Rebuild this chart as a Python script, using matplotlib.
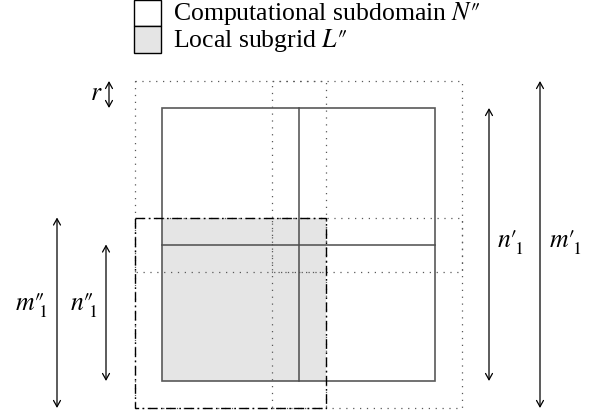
import matplotlib
matplotlib.use("Agg")
import matplotlib.pyplot as plt
from matplotlib.patches import Rectangle, FancyArrowPatch
from matplotlib.mathtext import MathTextParser
from matplotlib.font_manager import FontProperties

plt.rcParams['font.family'] = ['Liberation Serif', 'DejaVu Serif']
plt.rcParams['mathtext.fontset'] = 'stix'

# ---- diagram data (pixel units of the reference drawing) ----
legend_labels = ["Computational subdomain $N\u2033$", "Local subgrid $L\u2033$"]
legend_fills = ["white", "#e5e5e5"]
halo_r = 27            # halo width r
sub_size = 273         # computational subdomain size n'_1
sub_origin = (162, 109)
# dimension labels: (letter, primes, subscript)
dim_labels = {"n1p": ("n", "\u2032", "1"), "m1p": ("m", "\u2032", "1"),
              "n1pp": ("n", "\u2033", "1"), "m1pp": ("m", "\u2033", "1")}
r_label = "$r$"

W, H = 595, 414
fig = plt.figure(figsize=(W / 100, H / 100), dpi=100)
ax = fig.add_axes([0, 0, 1, 1])
ax.set_xlim(0, W)
ax.set_ylim(H, 0)
ax.axis('off')

x0, y0 = sub_origin
x1, y1 = x0 + sub_size, y0 + sub_size
xm, ym = (x0 + x1) / 2, (y0 + y1) / 2
r = halo_r

# local subgrid (bottom-left quadrant plus halo) grey fill, clipped to subdomain
gx0, gy0, gx1, gy1 = x0 - r, ym - r, xm + r, y1 + r
ax.add_patch(Rectangle((max(gx0, x0), gy0), min(gx1, x1) - max(gx0, x0),
                       min(gy1, y1) - gy0, facecolor=legend_fills[1],
                       edgecolor='none', zorder=1))

# dotted halo boxes of the four quadrants
dot = dict(edgecolor='0.35', lw=0.9, ls=(0, (1, 4.5)), zorder=2)
for qx0, qx1 in [(x0, xm), (xm, x1)]:
    for qy0, qy1 in [(y0, ym), (ym, y1)]:
        ax.add_patch(Rectangle((qx0 - r, qy0 - r), (qx1 - qx0) + 2 * r,
                               (qy1 - qy0) + 2 * r, fill=False, **dot))

# computational subdomain and its division
solid = dict(color='0.3', lw=1.1, zorder=3)
ax.add_patch(Rectangle((x0, y0), sub_size, sub_size, fill=False,
                       edgecolor='0.35', lw=1.2, zorder=3))
ax.plot([xm, xm], [y0, y1], **solid)
ax.plot([x0, x1], [ym, ym], **solid)

# local subgrid dash-dot outline
ax.add_patch(Rectangle((gx0, gy0), gx1 - gx0, gy1 - gy0, fill=False,
                       edgecolor='black', lw=1.0, ls=(0, (7, 2.5, 1.2, 2.5)),
                       zorder=4))

def darrow(x, ya, yb):
    a = FancyArrowPatch((x, ya), (x, yb),
                        arrowstyle='<->,head_length=0.45,head_width=0.25',
                        mutation_scale=10, lw=0.9, color='black',
                        shrinkA=0, shrinkB=0, zorder=5)
    ax.add_patch(a)

fs = 18.5
renderer = fig.canvas.get_renderer()
parser = MathTextParser('agg')

def dim_label(key, x, y, sub_drop):
    letter, primes, sub = dim_labels[key]
    back = r"\!\!" if primes == "\u2033" else r"\!"
    candidates = [
        f"${letter}{primes}{back}{{}}_{{\\mathrm{{{sub}}}}}^{{\\ }}$",
        f"${letter}{primes}{back}{{}}_{{{sub}}}$",
    ]
    for s in candidates:
        try:
            parser.parse(s, dpi=100, prop=FontProperties(size=fs))
            ax.text(x, y, s, fontsize=fs, ha='left', va='baseline')
            return
        except Exception:
            continue
    ax.text(x, y, f"${letter}{primes}$", fontsize=fs, ha='left', va='baseline')
    probe = ax.text(0, 0, f"${letter}$", fontsize=fs)
    w = probe.get_window_extent(renderer).width
    probe.remove()
    ax.text(x + w + 0.5, y + sub_drop, f"${sub}$", fontsize=fs * 0.7,
            ha='left', va='baseline')

# r arrow
darrow(109, y0 - r, y0)
ax.text(90, 100, r_label, fontsize=fs, ha='left', va='baseline')
# right arrows
darrow(489, y0, y1)
dim_label("n1p", 497, 248, 10)
darrow(540, y0 - r, y1 + r)
dim_label("m1p", 549, 248, 10)
# left arrows
darrow(57, gy0, gy1)
dim_label("m1pp", 15, 311, 12)
darrow(106, ym, y1)
dim_label("n1pp", 70, 311, 12)

# legend
box_x, box_w, box_h = 134, 27, 26.5
for i, (lab, fc) in enumerate(zip(legend_labels, legend_fills)):
    by = 0.8 + i * box_h
    ax.add_patch(Rectangle((box_x, by), box_w, box_h, facecolor=fc,
                           edgecolor='black', lw=1.0, zorder=5))
    ax.text(173, by + 19.5, lab, fontsize=fs, ha='left', va='baseline')

fig.savefig("out.png", dpi=100)
